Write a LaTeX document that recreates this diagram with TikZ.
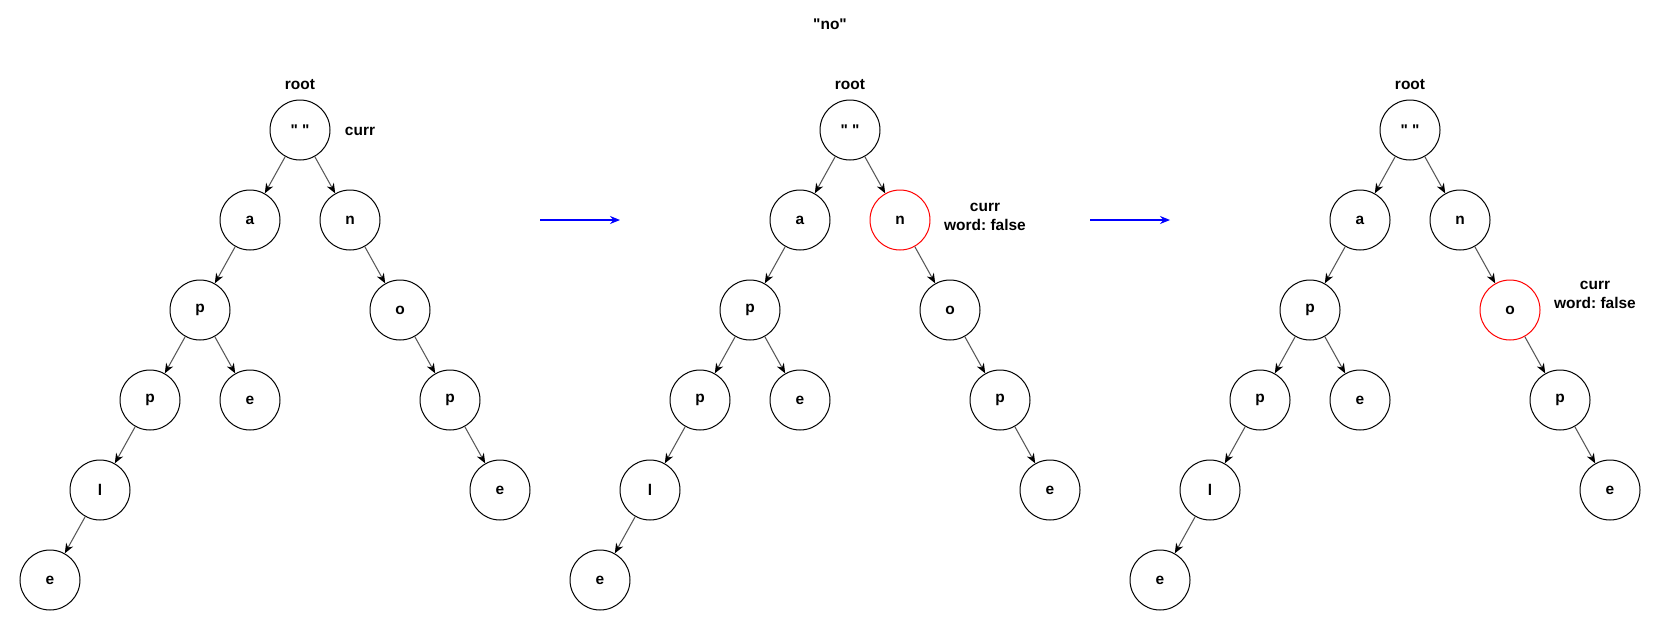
\documentclass[tikz,border=0pt]{standalone}
\usepackage{fontspec}
\setmainfont{Liberation Sans}[Ligatures=TeXOff]
\usetikzlibrary{arrows.meta,positioning,calc}

\newcommand{\qq}{\symbol{34}}
\tikzset{
  trienode/.style={circle, draw, line width=0.75pt, minimum size=45pt, inner sep=0pt,
    font=\bfseries\fontsize{11.6}{14.25}\selectfont},
  lbl/.style={font=\bfseries\frenchspacing\fontsize{11.6}{14.25}\selectfont, align=center, inner sep=0pt},
  edge/.style={draw=black!65, line width=0.8pt,
    -{Stealth[length=7.5pt,width=6pt,inset=2.5pt,color=black]}},
  stepline/.style={draw=blue, line width=0.8pt, -{Stealth[length=7.5pt,width=6pt,inset=2.5pt]}},
}

\begin{document}
\begin{tikzpicture}[x=0.75pt, y=-0.75pt]
    \useasboundingbox (0,0) rectangle (1660,640);

    % Title
    \node[lbl] (title) at (830,24) {\qq no\qq};

    % Three copies of the trie
    \foreach \t/\ox/\ncol/\ocol in {1/300/black/black, 2/850/red/black, 3/1410/black/red} {
      \begin{scope}[shift={(\ox,130)}]
        \node[trienode] (root\t) at (0,0) {\qq\ \qq};
        \node[lbl] (rootlbl\t) at (0,-45) {root};
        \node[trienode] (a\t) at (-50,90) {a};
        \node[trienode, draw=\ncol] (n\t) at (50,90) {n};
        \node[trienode] (p\t) at (-100,180) {p};
        \node[trienode, draw=\ocol] (o\t) at (100,180) {o};
        \node[trienode] (pp\t) at (-150,270) {p};
        \node[trienode] (pe\t) at (-50,270) {e};
        \node[trienode] (op\t) at (150,270) {p};
        \node[trienode] (ppl\t) at (-200,360) {l};
        \node[trienode] (ope\t) at (200,360) {e};
        \node[trienode] (pple\t) at (-250,450) {e};

        \draw[edge] (root\t) -- (a\t);
        \draw[edge] (root\t) -- (n\t);
        \draw[edge] (a\t) -- (p\t);
        \draw[edge] (p\t) -- (pp\t);
        \draw[edge] (p\t) -- (pe\t);
        \draw[edge] (pp\t) -- (ppl\t);
        \draw[edge] (ppl\t) -- (pple\t);
        \draw[edge] (n\t) -- (o\t);
        \draw[edge] (o\t) -- (op\t);
        \draw[edge] (op\t) -- (ope\t);
      \end{scope}
    }

    % Current pointer
    \node[lbl] (curr1) at ($(root1)+(60,1)$) {curr};
    \node[lbl] (curr2) at ($(n2)+(85,-3)$) {curr\\word: false};
    \node[lbl] (curr3) at ($(o3)+(85,-15)$) {curr\\word: false};

    % Steps
    \coordinate (go1s) at (540,220);
    \coordinate (go1e) at (620,220);
    \draw[stepline] (go1s) -- (go1e);
    \coordinate (go2s) at (1090,220);
    \coordinate (go2e) at (1170,220);
    \draw[stepline] (go2s) -- (go2e);
\end{tikzpicture}
\end{document}
